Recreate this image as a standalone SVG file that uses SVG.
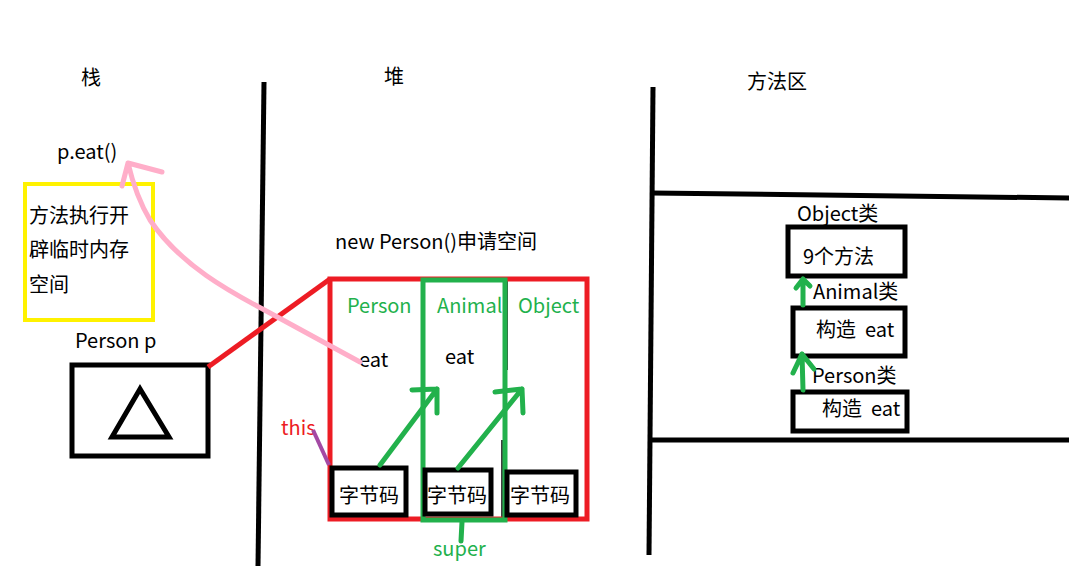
<svg xmlns="http://www.w3.org/2000/svg" width="1069" height="566" viewBox="0 0 1069 566">
<style>
text{font-family:"Noto Sans CJK SC","Noto Sans",sans-serif;font-size:20px;fill:#000}
.g{fill:#22B14C}
.r{fill:#ED1C24}
.blk{fill:none;stroke:#000;stroke-width:5}
.gl{fill:none;stroke:#22B14C;stroke-width:5;stroke-linecap:round;stroke-linejoin:round}
</style>
<rect width="1069" height="566" fill="#fff"/>
<g id="dividers" fill="none" stroke="#000" stroke-width="5">
<path d="M264 82 L258 566"/>
<path d="M653 87 L649 555"/>
<path d="M651 193 L1069 198"/>
<path d="M649 440 L1069 440"/>
</g>
<g id="titles">
<text x="81" y="85" font-size="19">栈</text>
<text x="384" y="84" font-size="19">堆</text>
<text x="747" y="89">方法区</text>
</g>
<g id="stack">
<text x="57" y="159" font-size="19">p.eat()</text>
<g id="tempmem">
<rect x="25" y="184" width="128" height="136" fill="none" stroke="#FFF200" stroke-width="4"/>
<text x="29" y="223">方法执行开</text>
<text x="29" y="257">辟临时内存</text>
<text x="29" y="292">空间</text>
</g>
<g id="personp">
<text x="75" y="348">Person p</text>
<rect x="72" y="365" width="136" height="91" class="blk"/>
<path d="M140 389 L112 437 L169 437 Z" class="blk" stroke-linejoin="miter"/>
</g>
</g>
<g id="heap">
<text x="335" y="249">new Person()申请空间</text>
<g id="object">
<path d="M330 279 L588 279" stroke="#000" stroke-width="2"/>
<path d="M507 280 L507 370 M502 440 L502 520" stroke="#000" stroke-width="1.5"/>
<rect x="330" y="279" width="257" height="240" fill="none" stroke="#ED1C24" stroke-width="5"/>
<text x="347" y="313" class="g">Person</text>
<text x="437" y="313" class="g">Animal</text>
<text x="518" y="313" class="g">Object</text>
<text x="359" y="367">eat</text>
<text x="445" y="364">eat</text>
<rect x="423" y="280" width="82" height="240" fill="none" stroke="#22B14C" stroke-width="5"/>
<rect x="332" y="468" width="74" height="47" class="blk"/>
<rect x="425" y="470" width="66" height="44" class="blk"/>
<rect x="507" y="472" width="69" height="43" class="blk"/>
<text x="339" y="503">字节码</text>
<text x="427" y="503">字节码</text>
<text x="510" y="503">字节码</text>
</g>
<text x="281" y="435" class="r">this</text>
<text x="433" y="556" class="g">super</text>
</g>
<g id="methodarea">
<g id="objclass">
<text x="797" y="221">Object类</text>
<rect x="788" y="227" width="117" height="49" class="blk"/>
<text x="803" y="264">9个方法</text>
</g>
<g id="animalclass">
<text x="813" y="299">Animal类</text>
<rect x="793" y="308" width="112" height="48" class="blk"/>
<text x="816" y="337" xml:space="preserve">构造  eat</text>
</g>
<g id="personclass">
<text x="812" y="383">Person类</text>
<rect x="793" y="392" width="114" height="39" class="blk"/>
<text x="822" y="416" xml:space="preserve">构造  eat</text>
</g>
</g>
<g id="connectors">
<path d="M208 367 L330 279" fill="none" stroke="#ED1C24" stroke-width="5"/>
<path d="M360 362 L270 313 C230 292 180 265 150 220 C138 200 132 180 128 163 M128 163 L162 172 M128 163 L122 186" fill="none" stroke="#FFAEC9" stroke-width="5" stroke-linecap="round" stroke-linejoin="round"/>
<path d="M313 430 L329 465" fill="none" stroke="#A349A4" stroke-width="4"/>
<path d="M462 522 L461 541" class="gl" stroke-linecap="butt"/>
<path d="M380 465 L437 389 M412 390 L437 389 L437 413" class="gl"/>
<path d="M458 468 L522 389 M495 392 L522 389 L523 413" class="gl"/>
<path d="M803 305 L803 280 M796 288 L803 279 L810 286" class="gl"/>
<path d="M803 390 L802 354 M793 373 L802 354 L814 369" class="gl"/>
</g>
</svg>
